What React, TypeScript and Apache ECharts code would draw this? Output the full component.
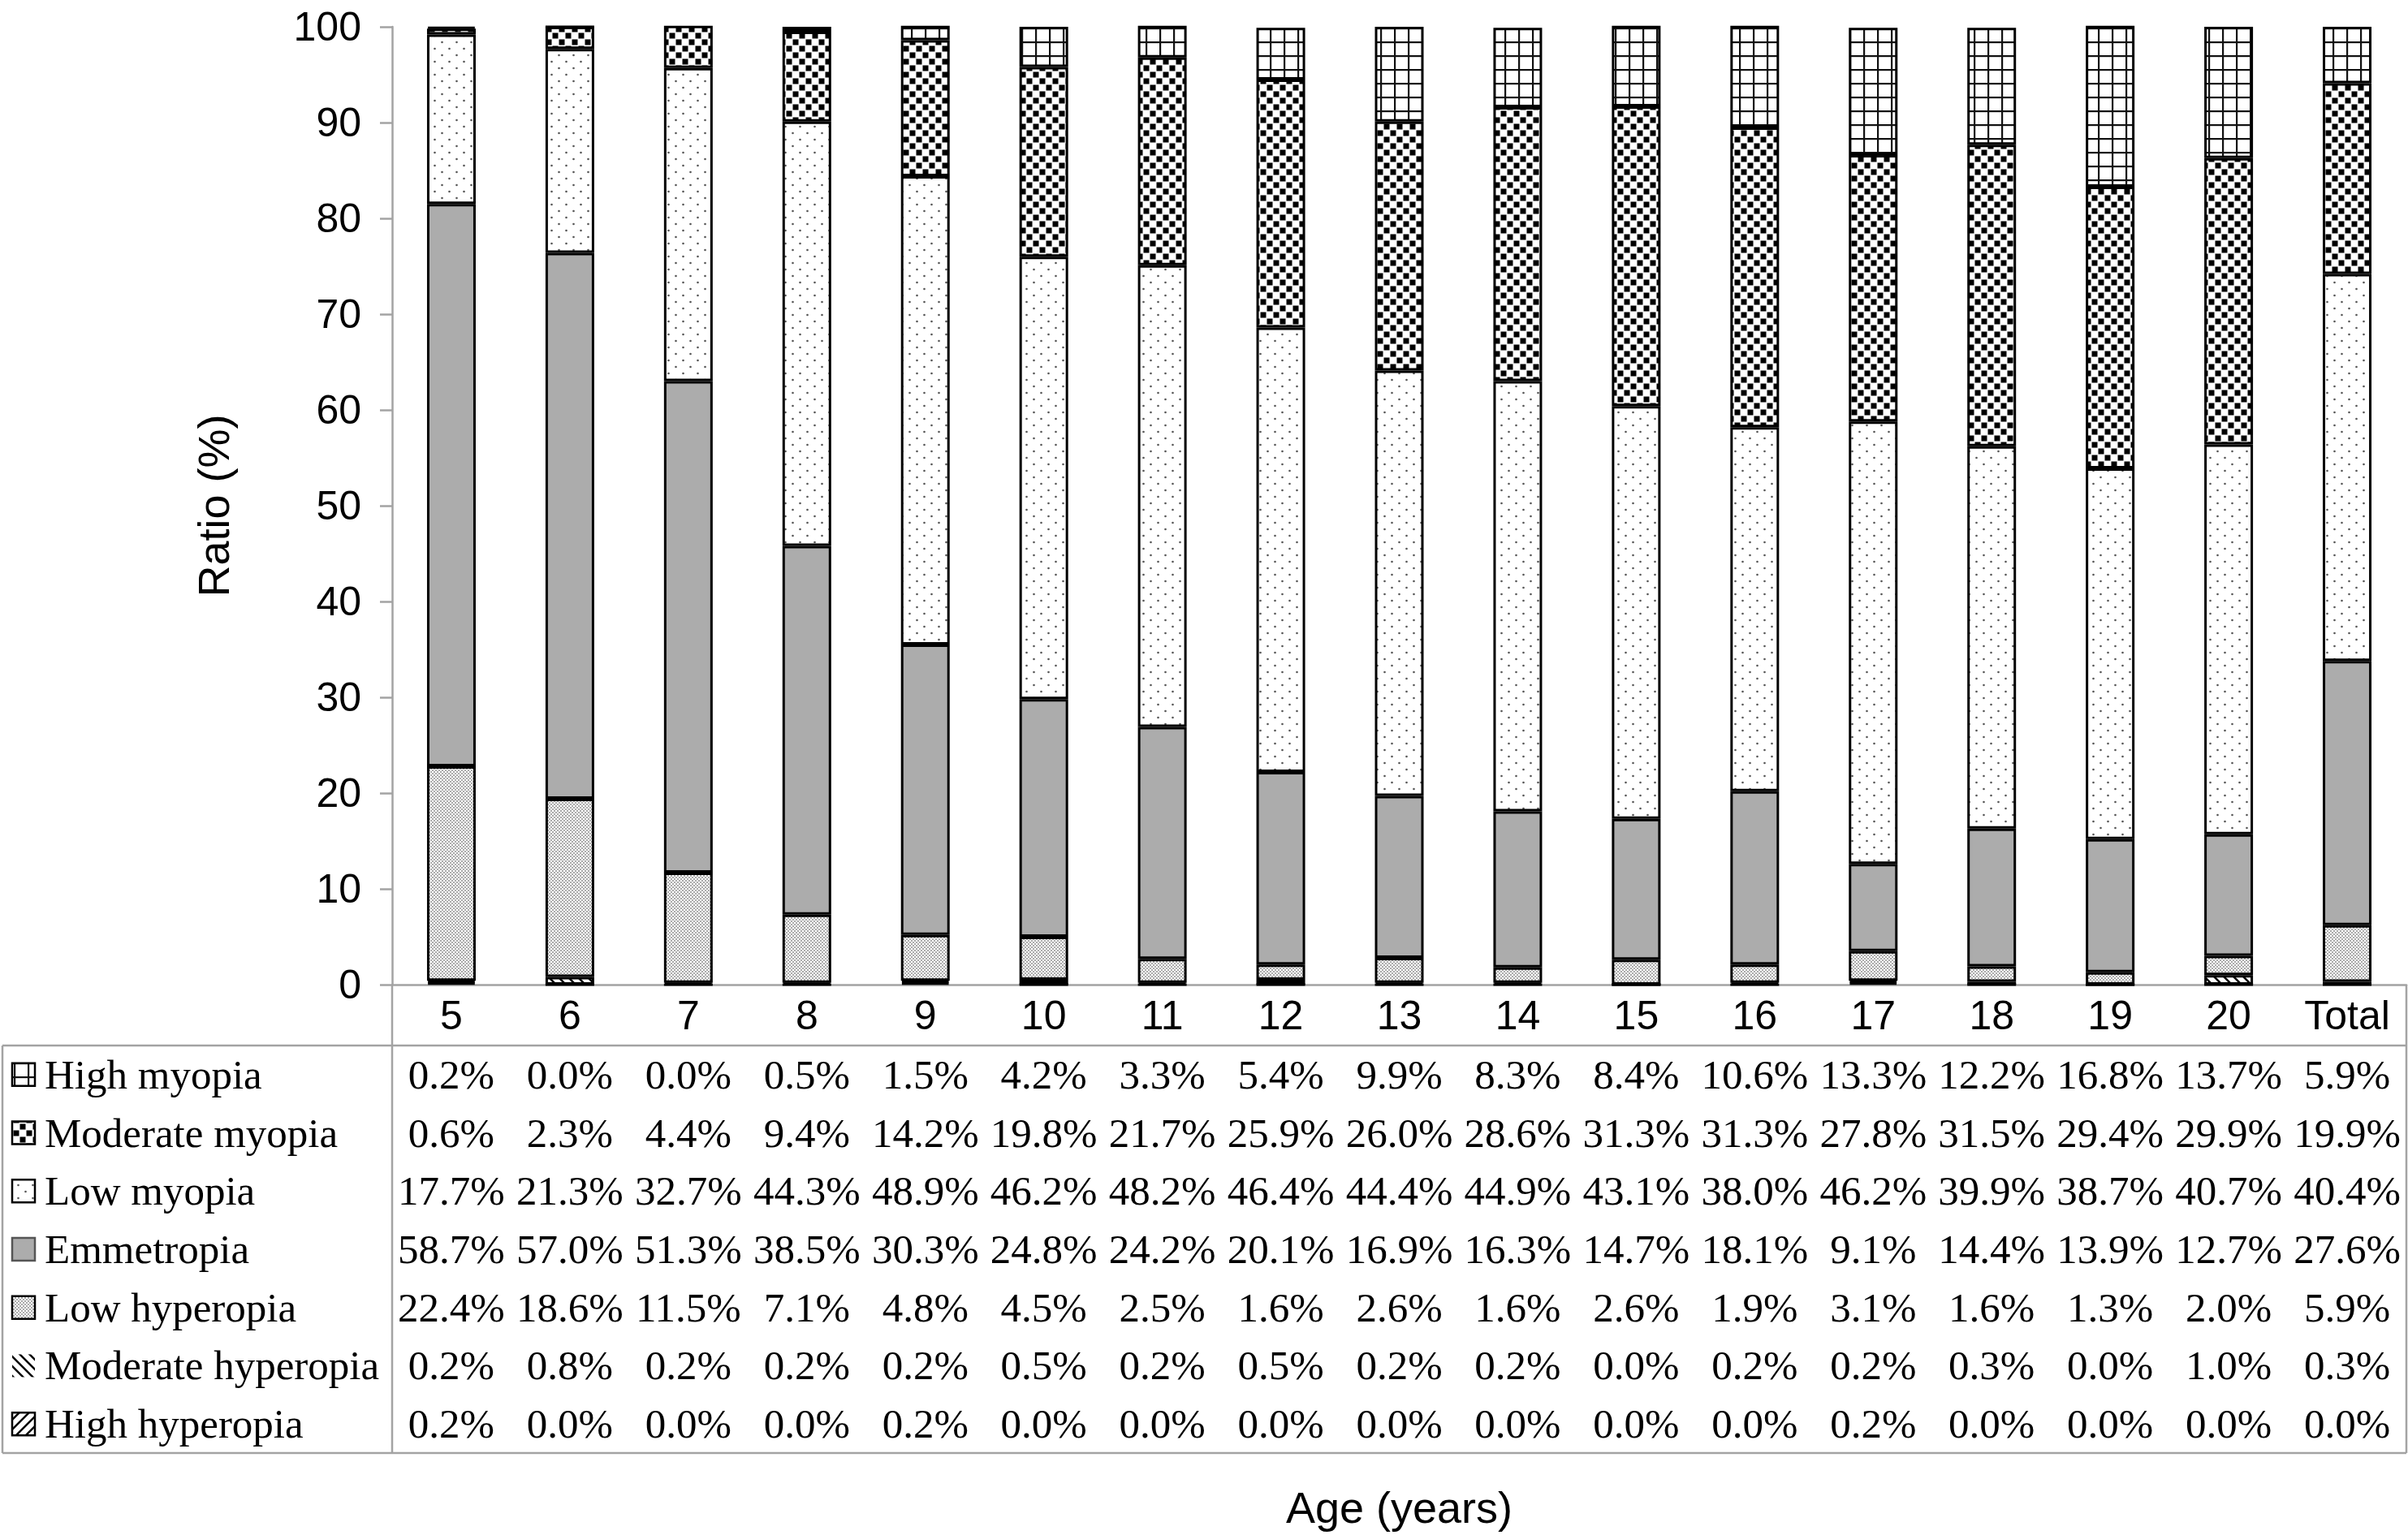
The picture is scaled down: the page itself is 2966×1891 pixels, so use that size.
import React, { useEffect, useRef } from 'react';
import * as echarts from 'echarts';

// ---------- data ----------
const categories = ['5', '6', '7', '8', '9', '10', '11', '12', '13', '14', '15', '16', '17', '18', '19', '20', 'Total'];

const highMyopia = [0.2, 0.0, 0.0, 0.5, 1.5, 4.2, 3.3, 5.4, 9.9, 8.3, 8.4, 10.6, 13.3, 12.2, 16.8, 13.7, 5.9];
const moderateMyopia = [0.6, 2.3, 4.4, 9.4, 14.2, 19.8, 21.7, 25.9, 26.0, 28.6, 31.3, 31.3, 27.8, 31.5, 29.4, 29.9, 19.9];
const lowMyopia = [17.7, 21.3, 32.7, 44.3, 48.9, 46.2, 48.2, 46.4, 44.4, 44.9, 43.1, 38.0, 46.2, 39.9, 38.7, 40.7, 40.4];
const emmetropia = [58.7, 57.0, 51.3, 38.5, 30.3, 24.8, 24.2, 20.1, 16.9, 16.3, 14.7, 18.1, 9.1, 14.4, 13.9, 12.7, 27.6];
const lowHyperopia = [22.4, 18.6, 11.5, 7.1, 4.8, 4.5, 2.5, 1.6, 2.6, 1.6, 2.6, 1.9, 3.1, 1.6, 1.3, 2.0, 5.9];
const moderateHyperopia = [0.2, 0.8, 0.2, 0.2, 0.2, 0.5, 0.2, 0.5, 0.2, 0.2, 0.0, 0.2, 0.2, 0.3, 0.0, 1.0, 0.3];
const highHyperopia = [0.2, 0.0, 0.0, 0.0, 0.2, 0.0, 0.0, 0.0, 0.0, 0.0, 0.0, 0.0, 0.2, 0.0, 0.0, 0.0, 0.0];

const yTicks = { min: 0, max: 100, interval: 10 };
const xTitle = 'Age (years)';
const yTitle = 'Ratio (%)';

// ---------- layout ----------
const W = 2966;
const H = 1891;
const AXIS_X = 483;
const RIGHT_X = 2964;
const TOP_Y = 33;
const BASE_Y = 1213;
const HEADER_Y = 1288;
const TABLE_BOTTOM = 1790;
const TABLE_LEFT = 3;
const ROW_H = (TABLE_BOTTOM - HEADER_Y) / 7;
const GRID_LINE = '#a3a3a3';
const SANS = 'Liberation Sans, Arial, sans-serif';
const SERIF = 'Liberation Serif, Times New Roman, serif';

// ---------- patterns ----------
function pattern(w: number, h: number, body: string) {
  const svg = `<svg xmlns="http://www.w3.org/2000/svg" width="${w}" height="${h}">${body}</svg>`;
  return {
    image: 'data:image/svg+xml;charset=utf-8,' + encodeURIComponent(svg),
    repeat: 'repeat',
    imageWidth: w,
    imageHeight: h,
  };
}

const fills: Record<string, any> = {
  'High myopia': pattern(17, 17,
    '<rect width="17" height="17" fill="#fff"/><rect width="17" height="2.2" fill="#111"/><rect width="2.2" height="17" fill="#111"/>'),
  'Moderate myopia': pattern(16, 16,
    '<rect width="16" height="16" fill="#fff"/><rect x="0.5" y="0.5" width="7" height="7" fill="#000"/><rect x="8.5" y="8.5" width="7" height="7" fill="#000"/>'),
  'Low myopia': pattern(18, 16,
    '<rect width="18" height="16" fill="#fff"/><circle cx="4.5" cy="4" r="1.3" fill="#555"/><circle cx="13.5" cy="12" r="1.3" fill="#555"/>'),
  'Emmetropia': '#acacac',
  'Low hyperopia': pattern(4, 4,
    '<rect width="4" height="4" fill="#fff"/><rect width="2" height="2" fill="#ababab"/><rect x="2" y="2" width="2" height="2" fill="#ababab"/>'),
  'Moderate hyperopia': pattern(12, 12,
    '<rect width="12" height="12" fill="#fff"/><path d="M0,0 L12,12 M-6,6 L6,18 M6,-6 L18,6" stroke="#000" stroke-width="2.5"/>'),
  'High hyperopia': pattern(12, 12,
    '<rect width="12" height="12" fill="#fff"/><path d="M0,12 L12,0 M-6,6 L6,-6 M6,18 L18,6" stroke="#000" stroke-width="2.5"/>'),
};

// bottom-to-top stacking order
const stackSeries = [
  { name: 'High hyperopia', data: highHyperopia },
  { name: 'Moderate hyperopia', data: moderateHyperopia },
  { name: 'Low hyperopia', data: lowHyperopia },
  { name: 'Emmetropia', data: emmetropia },
  { name: 'Low myopia', data: lowMyopia },
  { name: 'Moderate myopia', data: moderateMyopia },
  { name: 'High myopia', data: highMyopia },
];

// top-to-bottom table rows
const tableRows = [...stackSeries].reverse();

const fmt = (v: number) => v.toFixed(1) + '%';

function buildOption() {
  const rowCenter = (k: number) => HEADER_Y + ROW_H * (k + 0.5);

  const tableAxes = tableRows.map((row, k) => ({
    type: 'category',
    gridIndex: 0,
    position: 'bottom',
    offset: 0,
    data: categories,
    axisLine: { show: false },
    axisTick: { show: false },
    splitLine: { show: false },
    axisLabel: {
      interval: 0,
      margin: rowCenter(k) - BASE_Y,
      verticalAlign: 'middle',
      fontFamily: SERIF,
      fontSize: 51,
      color: '#000',
      formatter: (_v: string, i: number) => fmt(row.data[i]),
    },
  }));

  const line = (x1: number, y1: number, x2: number, y2: number) => ({
    type: 'line',
    silent: true,
    shape: { x1, y1, x2, y2 },
    style: { stroke: GRID_LINE, lineWidth: 2.5 },
  });

  const legendGraphics: any[] = [];
  tableRows.forEach((row, k) => {
    const cy = rowCenter(k);
    const noBox = row.name === 'Moderate hyperopia';
    legendGraphics.push({
      type: 'rect',
      silent: true,
      shape: { x: 15, y: cy - 14, width: 28, height: 28 },
      style: {
        fill: fills[row.name],
        stroke: noBox ? null : row.name === 'Emmetropia' ? '#555' : '#000',
        lineWidth: 2.5,
      },
    });
    legendGraphics.push({
      type: 'text',
      silent: true,
      x: 55,
      y: cy,
      style: {
        text: row.name,
        fontFamily: SERIF,
        fontSize: 51,
        fill: '#000',
        textAlign: 'left',
        textVerticalAlign: 'middle',
      },
    });
  });

  return {
    animation: false,
    backgroundColor: '#fff',
    grid: {
      left: AXIS_X,
      right: W - RIGHT_X,
      top: TOP_Y,
      bottom: H - BASE_Y,
      containLabel: false,
      outerBoundsMode: 'none',
    },
    xAxis: [
      {
        type: 'category',
        gridIndex: 0,
        position: 'bottom',
        data: categories,
        axisLine: { show: true, lineStyle: { color: GRID_LINE, width: 2.5 } },
        axisTick: { show: false },
        splitLine: { show: false },
        axisLabel: {
          interval: 0,
          margin: (BASE_Y + HEADER_Y) / 2 - BASE_Y,
          verticalAlign: 'middle',
          fontFamily: SANS,
          fontSize: 50,
          color: '#000',
        },
        name: xTitle,
        nameLocation: 'middle',
        nameGap: 617,
        nameTextStyle: { fontFamily: SANS, fontSize: 54, color: '#000' },
      },
      ...tableAxes,
    ],
    yAxis: {
      type: 'value',
      min: yTicks.min,
      max: yTicks.max,
      interval: yTicks.interval,
      axisLine: { show: true, lineStyle: { color: GRID_LINE, width: 2.5 } },
      axisTick: { show: true, inside: false, length: 15, lineStyle: { color: GRID_LINE, width: 2.5 } },
      splitLine: { show: false },
      axisLabel: { fontFamily: SANS, fontSize: 50, color: '#000', margin: 38 },
      name: yTitle,
      nameLocation: 'middle',
      nameRotate: 90,
      nameGap: 193,
      nameTextStyle: { fontFamily: SANS, fontSize: 54, color: '#000' },
    },
    series: stackSeries.map((s) => ({
      type: 'bar',
      name: s.name,
      stack: 'total',
      xAxisIndex: 0,
      data: s.data,
      barWidth: 60,
      emphasis: { disabled: true },
      itemStyle: { color: fills[s.name], borderColor: '#000', borderWidth: 3 },
    })),
    graphic: [
      line(TABLE_LEFT, HEADER_Y, RIGHT_X, HEADER_Y),
      line(TABLE_LEFT, TABLE_BOTTOM, RIGHT_X, TABLE_BOTTOM),
      line(TABLE_LEFT, HEADER_Y, TABLE_LEFT, TABLE_BOTTOM),
      line(AXIS_X, BASE_Y, AXIS_X, TABLE_BOTTOM),
      line(RIGHT_X, BASE_Y, RIGHT_X, TABLE_BOTTOM),
      ...legendGraphics,
    ],
  };
}

export default function App() {
  const ref = useRef<HTMLDivElement>(null);
  useEffect(() => {
    if (!ref.current) return;
    const chart = echarts.init(ref.current, undefined, { renderer: 'svg', width: W, height: H });
    chart.setOption(buildOption() as any);
    return () => chart.dispose();
  }, []);
  return (
    <div
      ref={ref}
      style={{ position: 'fixed', left: 0, top: 0, width: W, height: H, background: '#fff' }}
    />
  );
}
